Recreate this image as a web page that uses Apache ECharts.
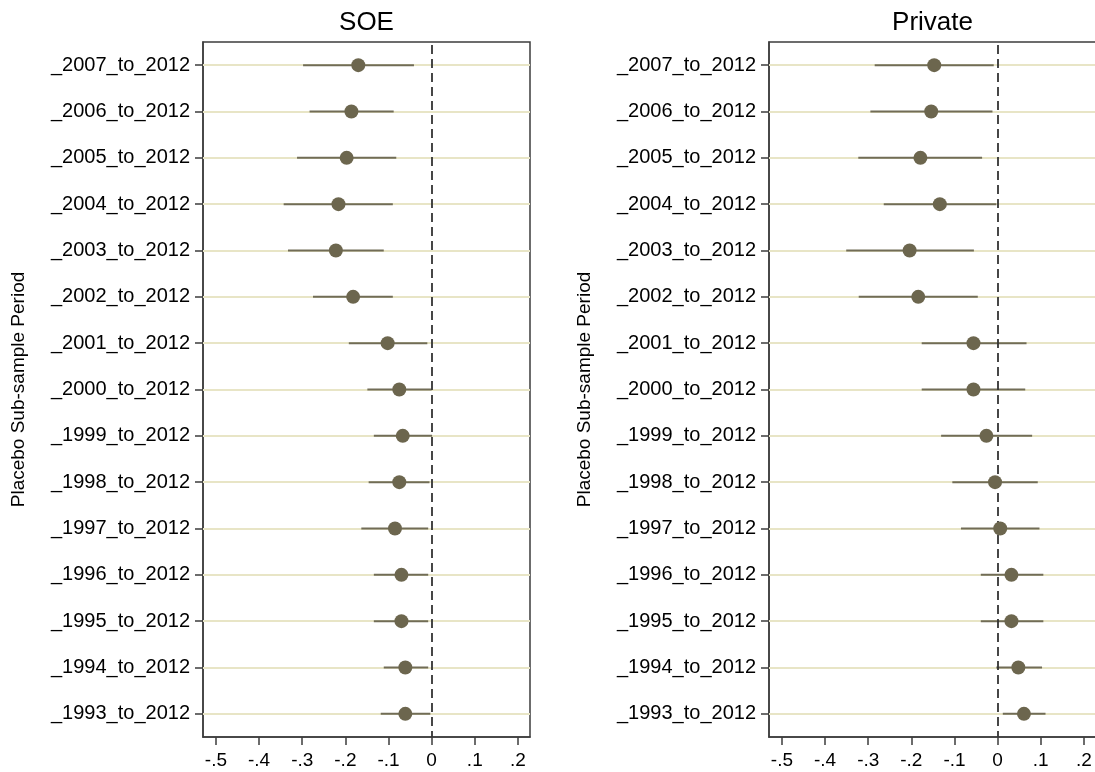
<!DOCTYPE html>
<html>
<head>
<meta charset="utf-8">
<title>Placebo sub-sample periods</title>
<script src="https://cdn.jsdelivr.net/npm/echarts@6/dist/echarts.min.js"></script>
<style>
  html, body { margin: 0; padding: 0; background: #fff; }
  #main { width: 1095px; height: 772px; }
</style>
</head>
<body>
<div id="main"></div>
<script>
// categories, top to bottom
var categories = ['_2007_to_2012', '_2006_to_2012', '_2005_to_2012', '_2004_to_2012', '_2003_to_2012',
  '_2002_to_2012', '_2001_to_2012', '_2000_to_2012', '_1999_to_2012', '_1998_to_2012',
  '_1997_to_2012', '_1996_to_2012', '_1995_to_2012', '_1994_to_2012', '_1993_to_2012'];

// SOE panel
var soeCoef = [-0.170, -0.186, -0.197, -0.216, -0.222, -0.182, -0.102, -0.075, -0.067, -0.075, -0.085, -0.070, -0.070, -0.061, -0.061];
var soeLo = [-0.298, -0.283, -0.312, -0.343, -0.333, -0.275, -0.192, -0.149, -0.134, -0.146, -0.163, -0.134, -0.134, -0.111, -0.118];
var soeHi = [-0.041, -0.088, -0.082, -0.090, -0.111, -0.090, -0.010, 0.000, 0.001, -0.005, -0.008, -0.008, -0.008, -0.008, -0.003];

// Private panel
var privCoef = [-0.147, -0.154, -0.179, -0.134, -0.204, -0.184, -0.056, -0.056, -0.026, -0.006, 0.006, 0.032, 0.032, 0.048, 0.061];
var privLo = [-0.285, -0.295, -0.323, -0.264, -0.351, -0.322, -0.176, -0.176, -0.131, -0.105, -0.085, -0.039, -0.039, -0.003, 0.012];
var privHi = [-0.009, -0.012, -0.036, -0.003, -0.055, -0.046, 0.067, 0.064, 0.080, 0.093, 0.097, 0.106, 0.106, 0.103, 0.111];

// x axis ticks
var xTicks = [-0.5, -0.4, -0.3, -0.2, -0.1, 0, 0.1, 0.2];
var xTickLabels = ['-.5', '-.4', '-.3', '-.2', '-.1', '0', '.1', '.2'];

var panelTitles = ['SOE', 'Private'];
var yTitle = 'Placebo Sub-sample Period';

var font = '"Liberation Sans", Arial, Helvetica, sans-serif';
var dotColor = '#6c664e';
var ciColor = '#716c56';
var gridColor = '#e8e5c6';
var frameColor = '#3c3c3c';

var chart = echarts.init(document.getElementById('main'));

// right panel runs off the image edge, same scale as the left one
var grids = [
  { left: 203, top: 42, width: 327, height: 695, xMax: 0.228 },
  { left: 769, top: 42, width: 330, height: 695, xMax: 0.235 }
];

function makeX(i) {
  return {
    type: 'value', gridIndex: i, min: -0.53, max: grids[i].xMax,
    axisLine: { show: true, onZero: false, lineStyle: { color: frameColor, width: 1.5 } },
    axisTick: { show: true, length: 8, customValues: xTicks, lineStyle: { color: frameColor, width: 1.5 } },
    axisLabel: {
      customValues: xTicks, margin: 14, color: '#000', fontSize: 19, fontFamily: font,
      formatter: function (v) {
        var k = xTicks.indexOf(v);
        return k >= 0 ? xTickLabels[k] : '';
      }
    },
    splitLine: { show: false }
  };
}

function makeY(i) {
  return {
    type: 'category', gridIndex: i, data: categories, inverse: true,
    name: yTitle, nameLocation: 'middle', nameRotate: 90, nameGap: 175,
    nameTextStyle: { color: '#000', fontSize: 19, fontFamily: font },
    axisLine: { show: true, onZero: false, lineStyle: { color: frameColor, width: 1.5 } },
    axisTick: { show: true, alignWithLabel: true, length: 8, lineStyle: { color: frameColor, width: 1.5 } },
    axisLabel: { margin: 13, color: '#000', fontSize: 20, fontFamily: font, interval: 0 },
    splitLine: { show: false }
  };
}

function makeSeries(i, coef, lo, hi) {
  var ciData = [];
  var dotData = [];
  for (var k = 0; k < categories.length; k++) {
    ciData.push([k, lo[k], hi[k]]);
    dotData.push([coef[k], k]);
  }
  return [
    { // pale grid lines at each category
      type: 'scatter', xAxisIndex: i, yAxisIndex: i, data: [], z: 1, silent: true,
      markLine: {
        z: 1, silent: true, symbol: ['none', 'none'], label: { show: false }, animation: false,
        emphasis: { disabled: true },
        lineStyle: { color: gridColor, width: 1.8, type: 'solid' },
        data: categories.map(function (c) { return { yAxis: c }; })
      }
    },
    { // confidence intervals
      type: 'custom', xAxisIndex: i, yAxisIndex: i, z: 2, silent: true,
      data: ciData,
      encode: { x: [1, 2], y: 0 },
      renderItem: function (params, api) {
        var a = api.coord([api.value(1), api.value(0)]);
        var b = api.coord([api.value(2), api.value(0)]);
        return {
          type: 'line',
          shape: { x1: a[0], y1: a[1], x2: b[0], y2: b[1] },
          style: { stroke: ciColor, lineWidth: 2 }
        };
      }
    },
    { // dashed zero line
      type: 'scatter', xAxisIndex: i, yAxisIndex: i, data: [], z: 3, silent: true,
      markLine: {
        z: 3, silent: true, symbol: ['none', 'none'], label: { show: false }, animation: false,
        emphasis: { disabled: true },
        lineStyle: { color: '#333', width: 1.8, type: [9, 5], dashOffset: -3 },
        data: [{ xAxis: 0 }]
      }
    },
    { // point estimates
      type: 'scatter', xAxisIndex: i, yAxisIndex: i, z: 4, silent: true,
      symbol: 'circle', symbolSize: 14,
      itemStyle: { color: dotColor, opacity: 1 },
      data: dotData
    }
  ];
}

var option = {
  animation: false,
  backgroundColor: '#fff',
  grid: grids.map(function (g) {
    return { show: true, borderColor: frameColor, borderWidth: 1.5, backgroundColor: 'transparent',
      outerBoundsMode: 'none', containLabel: false,
      left: g.left, top: g.top, width: g.width, height: g.height };
  }),
  graphic: panelTitles.map(function (t, i) {
    return {
      type: 'text', x: grids[i].left + 327 / 2, y: 23,
      style: { text: t, fill: '#000', font: '26px ' + font, textAlign: 'center', textVerticalAlign: 'middle' }
    };
  }),
  xAxis: [makeX(0), makeX(1)],
  yAxis: [makeY(0), makeY(1)],
  series: makeSeries(0, soeCoef, soeLo, soeHi).concat(makeSeries(1, privCoef, privLo, privHi))
};

chart.setOption(option);
</script>
</body>
</html>
